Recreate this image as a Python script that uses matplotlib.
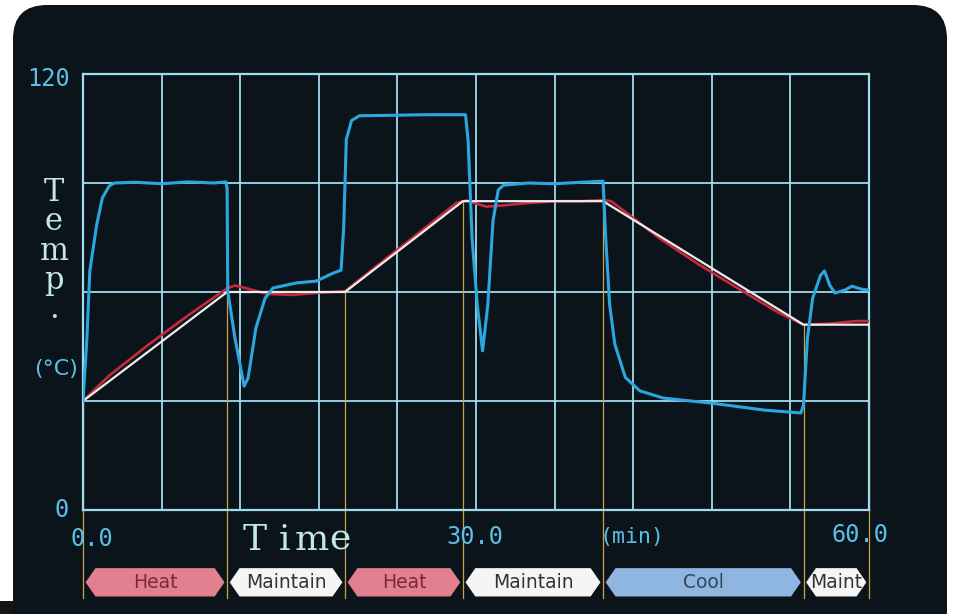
import numpy as np
import matplotlib
matplotlib.use('Agg')
from matplotlib import pyplot as plt
from matplotlib.patches import FancyBboxPatch, Polygon, Rectangle

# programme stages (min) and setpoint at each boundary (deg C)
stage_times = [0.0, 11.0, 20.0, 29.0, 39.7, 55.0, 60.0]
setpoint_vals = [30, 60, 60, 85, 85, 51, 51]
stage_names = ['Heat', 'Maintain', 'Heat', 'Maintain', 'Cool', 'Maint']

# measured sample temperature (red)
sample_t = [0, 2, 5, 8, 10, 11.0, 11.6, 12.5, 14, 16, 18, 20, 23, 26, 28.5, 29.3,
            30.0, 30.8, 32, 34, 36, 38, 39.7, 40.3, 41.5, 44, 47, 50, 53, 55.0, 57, 59, 60]
sample_v = [30, 37, 45.5, 53.5, 58.5, 61, 61.8, 61, 59.5, 59.2, 59.8, 60.2, 68.8, 77.3, 84.5, 85.2,
            84.3, 83.5, 83.8, 84.5, 85, 85, 85.3, 85, 81.8, 74.8, 67.6, 61, 54.5, 51, 51.3, 52, 52]

# heater / jacket temperature (cyan)
heater_t = [0, 0.3, 0.52, 1.04, 1.48, 2.0, 2.4, 4, 6, 8, 10, 10.9, 11.0, 11.05, 11.6, 12.3, 12.6,
            13.2, 13.9, 14.5, 16.3, 17.8, 19.1, 19.7, 19.9, 20.1, 20.5, 21.1, 23, 26.3, 29.2,
            29.4, 29.7, 30.1, 30.5, 30.9, 31.3, 31.7, 32.1, 34, 36, 38, 39.7,
            39.9, 40.2, 40.6, 41.4, 42.5, 44.3, 48.0, 52.0, 54.8,
            55.0, 55.3, 55.7, 56.3, 56.6, 57.0, 57.4, 58.2, 58.7, 59.4, 60]
heater_v = [30, 47.3, 65.8, 78.4, 85.9, 89.2, 90, 90.2, 89.8, 90.3, 90, 90.3, 88.6, 60.3, 47.3, 34.1, 36.3,
            50.1, 58.3, 61.1, 62.5, 63.0, 65.2, 66.0, 77.8, 102, 107.2, 108.5, 108.6, 108.8, 108.8,
            101.6, 74.8, 56.4, 43.8, 56.4, 79.6, 88.1, 89.4, 90, 89.8, 90.2, 90.5,
            74.9, 56.6, 45.6, 36.5, 32.8, 30.8, 29.4, 27.5, 26.7,
            28.9, 47.3, 58.3, 64.6, 65.8, 61.9, 59.7, 60.6, 61.6, 60.8, 60.5]

W, H = 954, 614
SCREEN = '#0c141b'
GRID = '#9fdcec'
DIGIT = '#5cc0e6'
PALE = '#c2e6ea'
stage_style = {
    'Heat': ('#e2808f', '#7a2a34'),
    'Maintain': ('#f5f5f5', '#333333'),
    'Maint': ('#f5f5f5', '#333333'),
    'Cool': ('#8fb6e0', '#34465e'),
}

fig = plt.figure(figsize=(W / 100, H / 100), dpi=100)
fig.patch.set_facecolor('white')

# pixel-space background: the monitor screen
bg = fig.add_axes([0, 0, 1, 1], zorder=-1)
bg.set_xlim(0, W)
bg.set_ylim(H, 0)
bg.axis('off')
bg.add_patch(Rectangle((0, 601), 260, 20, color='#151515', lw=0))
bg.add_patch(FancyBboxPatch((13, 5), 934, 640, boxstyle='round,pad=0,rounding_size=34',
                            fc=SCREEN, ec='none'))


def px(x, y):
    return x / W, 1 - y / H


ax = fig.add_axes([83 / W, 1 - 510 / H, 786 / W, 436 / H])
ax.set_facecolor('none')
ax.set_xlim(0, 60)
ax.set_ylim(0, 120)
for t in np.arange(6, 60, 6):
    ax.axvline(t, color=GRID, lw=1.3, zorder=1)
for v in [30, 60, 90]:
    ax.axhline(v, color=GRID, lw=1.3, zorder=1)
for s in ax.spines.values():
    s.set_color(GRID)
    s.set_linewidth(1.6)
ax.set_xticks([])
ax.set_yticks([])

# stage boundary markers running down into the stage bar
bar_top, bar_bot = -16.0, -23.8
for t, v in zip(stage_times, setpoint_vals):
    ax.plot([t, t], [v, bar_bot - 0.5], color='#c9a24a', lw=0.9, zorder=2, clip_on=False)

ax.plot(sample_t, sample_v, color='#c8283e', lw=1.9, zorder=3, solid_capstyle='round')
ax.plot(stage_times, setpoint_vals, color='#ececec', lw=1.6, zorder=4)
ax.plot(heater_t, heater_v, color='#2aa7df', lw=2.2, zorder=5, solid_joinstyle='round')

# stage bar
tip = 0.75
gap = 0.2
bar_mid = (bar_top + bar_bot) / 2
for name, t0, t1 in zip(stage_names, stage_times[:-1], stage_times[1:]):
    a, b = t0 + gap, t1 - gap
    fc, tc = stage_style[name]
    pts = [(a, bar_mid), (a + tip, bar_top), (b - tip, bar_top), (b, bar_mid),
           (b - tip, bar_bot), (a + tip, bar_bot)]
    ax.add_patch(Polygon(pts, closed=True, fc=fc, ec='none', clip_on=False, zorder=6))
    ax.text((a + b) / 2, bar_mid, name, ha='center', va='center', color=tc, fontsize=13.5,
            family=['Liberation Sans Narrow', 'DejaVu Sans'], zorder=7, clip_on=False)

# screen texts
mono = 'DejaVu Sans Mono'
fig.text(*px(70, 79), '120', ha='right', va='center', color=DIGIT, fontsize=17, family=mono)
fig.text(*px(69, 510), '0', ha='right', va='center', color=DIGIT, fontsize=17, family=mono)
fig.text(*px(71, 539), '0.0', ha='left', va='center', color=DIGIT, fontsize=17, family=mono)
fig.text(*px(446, 537), '30.0', ha='left', va='center', color=DIGIT, fontsize=17, family=mono)
fig.text(*px(600, 537), '(min)', ha='left', va='center', color=DIGIT, fontsize=15.5, family=mono)
fig.text(*px(832, 535), '60.0', ha='left', va='center', color=DIGIT, fontsize=17, family=mono)

serif = 'DejaVu Serif'
for ch, xc in zip('Time', [255, 284, 312, 340]):
    fig.text(*px(xc, 550), ch, ha='center', va='baseline', color=PALE, fontsize=26,
             family=serif, fontweight='light')
fig.text(*px(54, 251), 'T\ne\nm\np\n.', ha='center', va='center', multialignment='center',
         linespacing=0.93, color=PALE, fontsize=22, family=serif, fontweight='light')
fig.text(*px(56, 369), '(°C)', ha='center', va='center', color=DIGIT, fontsize=16,
         family='DejaVu Sans')

fig.savefig('out.png', dpi=100, facecolor=fig.get_facecolor())
